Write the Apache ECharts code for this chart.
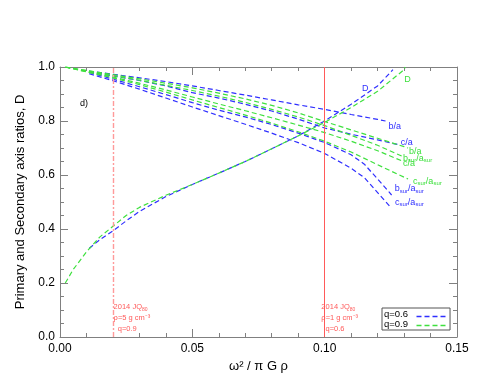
<!DOCTYPE html>
<html>
<head>
<meta charset="utf-8">
<script src="https://cdn.jsdelivr.net/npm/echarts@6/dist/echarts.min.js"></script>
<style>
html, body { margin: 0; background: #fff; }
#chart { width: 491px; height: 379px; }
</style>
</head>
<body>
<div id="chart"></div>
<script>
"use strict";

/*-----data-----*/
// q=0.6 (blue)
var blueD   = [[0.011,0.328],[0.015,0.36],[0.02,0.393],[0.025,0.43],[0.03,0.465],[0.04,0.52],[0.05,0.565],[0.06,0.607],[0.07,0.65],[0.08,0.697],[0.09,0.745],[0.10,0.80],[0.11,0.862],[0.12,0.93],[0.1258,0.99]];
var blueBA  = [[0.011,0.985],[0.02,0.973],[0.03,0.96],[0.04,0.946],[0.05,0.93],[0.06,0.913],[0.07,0.896],[0.08,0.878],[0.09,0.86],[0.10,0.843],[0.11,0.824],[0.12,0.806],[0.123,0.80]];
var blueCA  = [[0.011,0.982],[0.02,0.967],[0.03,0.95],[0.04,0.93],[0.05,0.905],[0.06,0.885],[0.07,0.862],[0.08,0.837],[0.09,0.807],[0.10,0.774],[0.11,0.751],[0.12,0.73],[0.128,0.712]];
var blueBS  = [[0.011,0.98],[0.02,0.955],[0.03,0.927],[0.04,0.898],[0.05,0.868],[0.06,0.84],[0.07,0.815],[0.08,0.787],[0.09,0.755],[0.10,0.72],[0.11,0.675],[0.115,0.64],[0.12,0.585],[0.1253,0.526]];
var blueCS  = [[0.011,0.975],[0.02,0.949],[0.03,0.918],[0.04,0.885],[0.05,0.852],[0.06,0.82],[0.07,0.788],[0.08,0.755],[0.09,0.72],[0.10,0.68],[0.11,0.625],[0.115,0.59],[0.12,0.535],[0.1247,0.483]];
// q=0.9 (green)
var greenD  = [[0.002,0.2],[0.005,0.25],[0.01,0.315],[0.015,0.37],[0.02,0.41],[0.025,0.45],[0.03,0.48],[0.04,0.525],[0.05,0.565],[0.06,0.607],[0.07,0.65],[0.08,0.697],[0.09,0.745],[0.10,0.795],[0.11,0.85],[0.12,0.91],[0.13,0.99],[0.1304,1.0]];
var greenBA = [[0.002,1.0],[0.01,0.987],[0.02,0.972],[0.03,0.956],[0.04,0.94],[0.05,0.923],[0.06,0.903],[0.07,0.882],[0.08,0.858],[0.09,0.83],[0.10,0.798],[0.11,0.767],[0.12,0.736],[0.13,0.705],[0.1315,0.70]];
var greenBS = [[0.002,1.0],[0.01,0.986],[0.02,0.968],[0.03,0.951],[0.04,0.932],[0.05,0.913],[0.06,0.892],[0.07,0.869],[0.08,0.843],[0.09,0.815],[0.10,0.783],[0.11,0.747],[0.12,0.71],[0.1296,0.668]];
var greenCA = [[0.002,1.0],[0.01,0.983],[0.02,0.963],[0.03,0.94],[0.04,0.915],[0.05,0.889],[0.06,0.863],[0.07,0.838],[0.08,0.812],[0.09,0.785],[0.10,0.757],[0.11,0.725],[0.12,0.69],[0.13,0.649]];
var greenCS = [[0.002,1.0],[0.01,0.982],[0.02,0.96],[0.03,0.935],[0.04,0.907],[0.05,0.878],[0.06,0.85],[0.07,0.822],[0.08,0.792],[0.09,0.76],[0.10,0.725],[0.11,0.685],[0.12,0.638],[0.1315,0.585]];

// 2014 JQ80 markers (omega^2 / pi G rho)
var jqRho5 = 0.0195;
var jqRho1 = 0.098;

var BLUE = '#2f2fff';
var GREEN = '#3ee03e';
var RED = '#ff5a5a';

function richFor(color) {
	return {
		s: { fontSize: 6, color: color, verticalAlign: 'bottom', padding: [4, 0, 0, 0] }
	};
}

function curve(name, color, data, text, offset) {
	return {
		name: name,
		type: 'line',
		data: data,
		symbol: 'none',
		silent: true,
		lineStyle: { color: color, width: 1.2, type: [5, 3] },
		itemStyle: { color: color },
		markPoint: {
			symbol: 'circle',
			symbolSize: 0,
			silent: true,
			data: [{ coord: data[data.length - 1] }],
			label: {
				show: true,
				position: 'right',
				distance: 0,
				offset: offset,
				formatter: text,
				color: color,
				fontSize: 9,
				fontFamily: 'Liberation Sans',
				rich: richFor(color)
			}
		}
	};
}

var axisGrey = '#808080';
function xAxisOf(pos, labels) {
	return {
		type: 'value', position: pos, min: 0, max: 0.15, interval: 0.05,
		axisLine: { show: true, onZero: false, lineStyle: { color: axisGrey, width: 1 } },
		axisTick: { show: true, inside: true, length: 8, lineStyle: { color: axisGrey } },
		minorTick: { show: true, splitNumber: 5, length: 4, lineStyle: { color: axisGrey } },
		splitLine: { show: false },
		axisLabel: { show: labels, margin: 6, color: '#000', fontSize: 12, fontFamily: 'Liberation Sans',
			formatter: function (v) { return v.toFixed(2); } },
		name: labels ? 'ω² / π G ρ' : '',
		nameLocation: 'middle',
		nameGap: 17,
		nameTextStyle: { color: '#000', fontSize: 13, fontFamily: 'Liberation Sans' }
	};
}
function yAxisOf(pos, labels) {
	return {
		type: 'value', position: pos, min: 0, max: 1, interval: 0.2,
		axisLine: { show: true, onZero: false, lineStyle: { color: axisGrey, width: 1 } },
		axisTick: { show: true, inside: true, length: 8, lineStyle: { color: axisGrey } },
		minorTick: { show: true, splitNumber: 4, length: 4, lineStyle: { color: axisGrey } },
		splitLine: { show: false },
		axisLabel: { show: labels, margin: 5, color: '#000', fontSize: 12, fontFamily: 'Liberation Sans',
			formatter: function (v) { return v.toFixed(1); } },
		name: labels ? 'Primary and Secondary axis ratios, D' : '',
		nameLocation: 'middle',
		nameGap: 27,
		nameTextStyle: { color: '#000', fontSize: 13, fontFamily: 'Liberation Sans' }
	};
}

// vertical marker for 2014 JQ80 with its note at the foot of the line
function jqMarker(x, dash, lineColor, lineWidth, note) {
	return {
		name: 'jq', type: 'line', data: [], silent: true,
		color: lineColor,
		itemStyle: { color: lineColor },
		lineStyle: { color: lineColor },
		markLine: {
			symbol: 'none', silent: true, label: { show: false },
			lineStyle: { color: lineColor, width: lineWidth, type: dash, opacity: 1 },
			data: [{ xAxis: x }]
		},
		markPoint: {
			symbol: 'circle', symbolSize: 0, silent: true,
			data: [{ coord: [x, 0] }],
			label: {
				show: true, position: 'right', distance: 0, offset: [2, -19],
				color: RED, fontSize: 7.5, fontFamily: 'Liberation Sans', lineHeight: 11, align: 'left',
				formatter: note,
				rich: { s: { fontSize: 5, color: RED, verticalAlign: 'bottom', padding: [3, 0, 0, 0] } }
			}
		}
	};
}

var hidden = { opacity: 0 };

var chart = echarts.init(document.getElementById('chart'));
var option = {
	animation: false,
	backgroundColor: '#fff',
	grid: { left: 60, top: 67, width: 397, height: 270 },
	xAxis: [xAxisOf('bottom', true), xAxisOf('top', false)],
	yAxis: [yAxisOf('left', true), yAxisOf('right', false)],
	legend: {
		data: [
			{ name: 'q=0.6', itemStyle: hidden, lineStyle: hidden },
			{ name: 'q=0.9', itemStyle: hidden, lineStyle: hidden }
		],
		left: 382, top: 308,
		orient: 'vertical',
		align: 'right',
		itemGap: 0,
		itemWidth: 30,
		itemHeight: 9,
		padding: [1, 6, 1, 2],
		borderColor: '#555',
		borderWidth: 1,
		selectedMode: false,
		textStyle: { color: '#000', fontSize: 9.5, fontFamily: 'Liberation Sans' }
	},
	series: [
		curve('q=0.6', BLUE, blueD, 'D', [-31, 19]),
		curve('q=0.6', BLUE, blueBA, 'b/a', [3, 6]),
		curve('q=0.6', BLUE, blueCA, 'c/a', [2, -2]),
		curve('q=0.6', BLUE, blueBS, 'b{s|sur}/a{s|sur}', [3, -6]),
		curve('q=0.6', BLUE, blueCS, 'c{s|sur}/a{s|sur}', [5, -4]),
		curve('q=0.9', GREEN, greenD, 'D', [-1, 13]),
		curve('q=0.9', GREEN, greenBA, 'b/a', [1, 4]),
		curve('q=0.9', GREEN, greenBS, 'b{s|sur}/a{s|sur}', [0, 2]),
		curve('q=0.9', GREEN, greenCA, 'c/a', [-1, 2]),
		curve('q=0.9', GREEN, greenCS, 'c{s|sur}/a{s|sur}', [5, 2]),
		jqMarker(jqRho5, [5, 2, 2, 2], '#ff9a9a', 1.4, '2014 JQ{s|80}\nρ=5 g cm⁻³\n  q=0.9'),
		jqMarker(jqRho1, 'solid', RED, 1, '2014 JQ{s|80}\nρ=1 g cm⁻³\n  q=0.6')
	]
};
chart.setOption(option);

// dashed key lines inside the legend box, plus the panel tag
var legendKeys = [
	{ color: BLUE, top: 314 },
	{ color: GREEN, top: 323 }
];
chart.setOption({
	graphic: [{
		type: 'text', left: 80, top: 99,
		style: { text: 'd)', fill: '#000', fontSize: 9, fontFamily: 'Liberation Sans' }
	}].concat(legendKeys.map(function (k) {
		return {
			type: 'line', left: 414, top: k.top, silent: true,
			shape: { x1: 0, y1: 0, x2: 30, y2: 0 },
			style: { stroke: k.color, lineWidth: 1.5, lineDash: [5, 3] }
		};
	}))
});
window.addEventListener('resize', function () {
	chart.resize();
});
</script>
</body>
</html>
